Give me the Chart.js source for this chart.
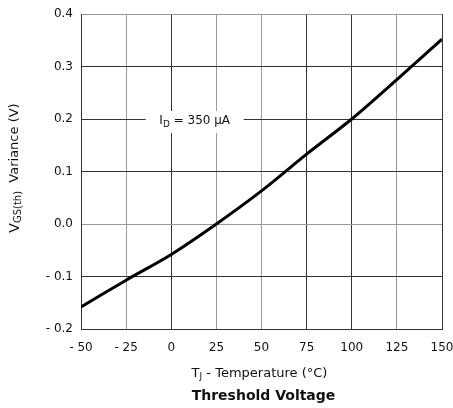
<!DOCTYPE html>
<html>
<head>
<meta charset="utf-8">
<script src="https://cdn.jsdelivr.net/npm/chart.js@4/dist/chart.umd.min.js"></script>
<style>
  html, body { margin: 0; padding: 0; background: #fff; }
  #wrap { width: 453px; height: 408px; position: relative; }
</style>
</head>
<body>
<div id="wrap"><canvas id="chart"></canvas></div>
<script>
let temps = [-50, -25, 0, 25, 50, 75, 100, 125, 150];
let variance = [-0.158, -0.107, -0.058, 0.0, 0.063, 0.133, 0.2, 0.275, 0.352];
let xTicks = [-50, -25, 0, 25, 50, 75, 100, 125, 150];
let yTicks = [-0.2, -0.1, 0.0, 0.1, 0.2, 0.3, 0.4];
let labelText = "= 350 µA";

let FONT = "'DejaVu Sans', sans-serif";

function fmtX(v) {
	return v < 0 ? "- " + Math.abs(v) : String(v);
}
function fmtY(v) {
	let s = Math.abs(v).toFixed(1);
	return v < -0.0001 ? "- " + s : s;
}

// darker grid lines, the rest grey
let darkX = [-50, 0, 75, 100, 150];
let darkY = [-0.2, -0.1, 0.1, 0.2, 0.3];

// titles and the I_D label drawn by hand (subscripts)
let textPlugin = {
	id: 'textPlugin',
	beforeDatasetsDraw(chart) {
		let ctx = chart.ctx;
		let xs = chart.scales.x, ys = chart.scales.y;
		let cx = xs.getPixelForValue(13);
		let cy = ys.getPixelForValue(0.2) + 2;
		ctx.save();
		ctx.fillStyle = '#fff';
		ctx.fillRect(cx - 49, cy - 10, 98, 22);
		ctx.fillStyle = '#111';
		ctx.textBaseline = 'middle';
		ctx.font = "12px " + FONT;
		let w1 = ctx.measureText("I").width;
		ctx.font = "9px " + FONT;
		let w2 = ctx.measureText("D").width;
		ctx.font = "12px " + FONT;
		let w3 = ctx.measureText(" " + labelText).width;
		let x0 = cx - (w1 + w2 + w3) / 2;
		ctx.fillText("I", x0, cy);
		ctx.font = "9px " + FONT;
		ctx.fillText("D", x0 + w1, cy + 4);
		ctx.font = "12px " + FONT;
		ctx.fillText(" " + labelText, x0 + w1 + w2, cy);
		ctx.restore();
	},
	afterDraw(chart) {
		let ctx = chart.ctx;
		let area = chart.chartArea;
		ctx.save();
		ctx.fillStyle = '#111';
		ctx.textBaseline = 'middle';
		// x title
		let midX = (area.left + area.right) / 2;
		let parts = [["T", "13px", 0], ["J", "9px", 3], [" - Temperature (°C)", "13px", 0]];
		let total = 0;
		parts.forEach(p => { ctx.font = p[1] + " " + FONT; total += ctx.measureText(p[0]).width; });
		let x = midX - total / 2 - 2;
		parts.forEach(p => {
			ctx.font = p[1] + " " + FONT;
			ctx.fillText(p[0], x, 374 + p[2]);
			x += ctx.measureText(p[0]).width;
		});
		ctx.font = "bold 14px " + FONT;
		ctx.textAlign = 'center';
		ctx.fillText("Threshold Voltage", midX + 2, 396);
		// y title
		ctx.translate(15, 168);
		ctx.rotate(-Math.PI / 2);
		ctx.textAlign = 'left';
		let yparts = [["V", "14px", 0], ["GS(th)", "10px", 3], ["  Variance (V)", "13px", 0]];
		total = 0;
		yparts.forEach(p => { ctx.font = p[1] + " " + FONT; total += ctx.measureText(p[0]).width; });
		x = -total / 2;
		yparts.forEach(p => {
			ctx.font = p[1] + " " + FONT;
			ctx.fillText(p[0], x, p[2]);
			x += ctx.measureText(p[0]).width;
		});
		ctx.restore();
	}
};

let dataPlot = new Chart(document.getElementById("chart"), {
	type: 'line',
	data: {
		datasets: [{
			data: temps.map((t, i) => ({ x: t, y: variance[i] })),
			borderColor: '#000',
			borderWidth: 3,
			pointRadius: 0,
			tension: 0.3,
			fill: false
		}]
	},
	options: {
		responsive: true,
		maintainAspectRatio: false,
		animation: false,
		layout: { padding: { top: 14, right: 11, left: 0, bottom: 0 } },
		plugins: { legend: { display: false }, tooltip: { enabled: false } },
		scales: {
			x: {
				type: 'linear',
				min: -50, max: 150,
				afterBuildTicks: s => { s.ticks = xTicks.map(v => ({ value: v })); },
				afterFit: s => { s.height = 79; s.paddingLeft = 0; s.paddingRight = 0; },
				border: { display: true, color: '#333', width: 1 },
				grid: {
					drawTicks: false,
					color: c => darkX.includes(c.tick.value) ? '#333' : '#999',
					lineWidth: 1
				},
				ticks: {
					padding: 12,
					color: '#111',
					maxRotation: 0,
					font: { family: FONT, size: 12 },
					callback: v => fmtX(v)
				}
			},
			y: {
				min: -0.2, max: 0.4,
				afterBuildTicks: s => { s.ticks = yTicks.map(v => ({ value: v })); },
				afterFit: s => { s.width = 81; s.paddingTop = 0; s.paddingBottom = 0; },
				border: { display: true, color: '#333', width: 1 },
				grid: {
					drawTicks: false,
					color: c => darkY.some(d => Math.abs(d - c.tick.value) < 1e-6) ? '#333' : '#999',
					lineWidth: 1
				},
				ticks: {
					padding: 8,
					color: '#111',
					font: { family: FONT, size: 12 },
					callback: v => fmtY(v)
				}
			}
		}
	},
	plugins: [textPlugin]
});
</script>
</body>
</html>
